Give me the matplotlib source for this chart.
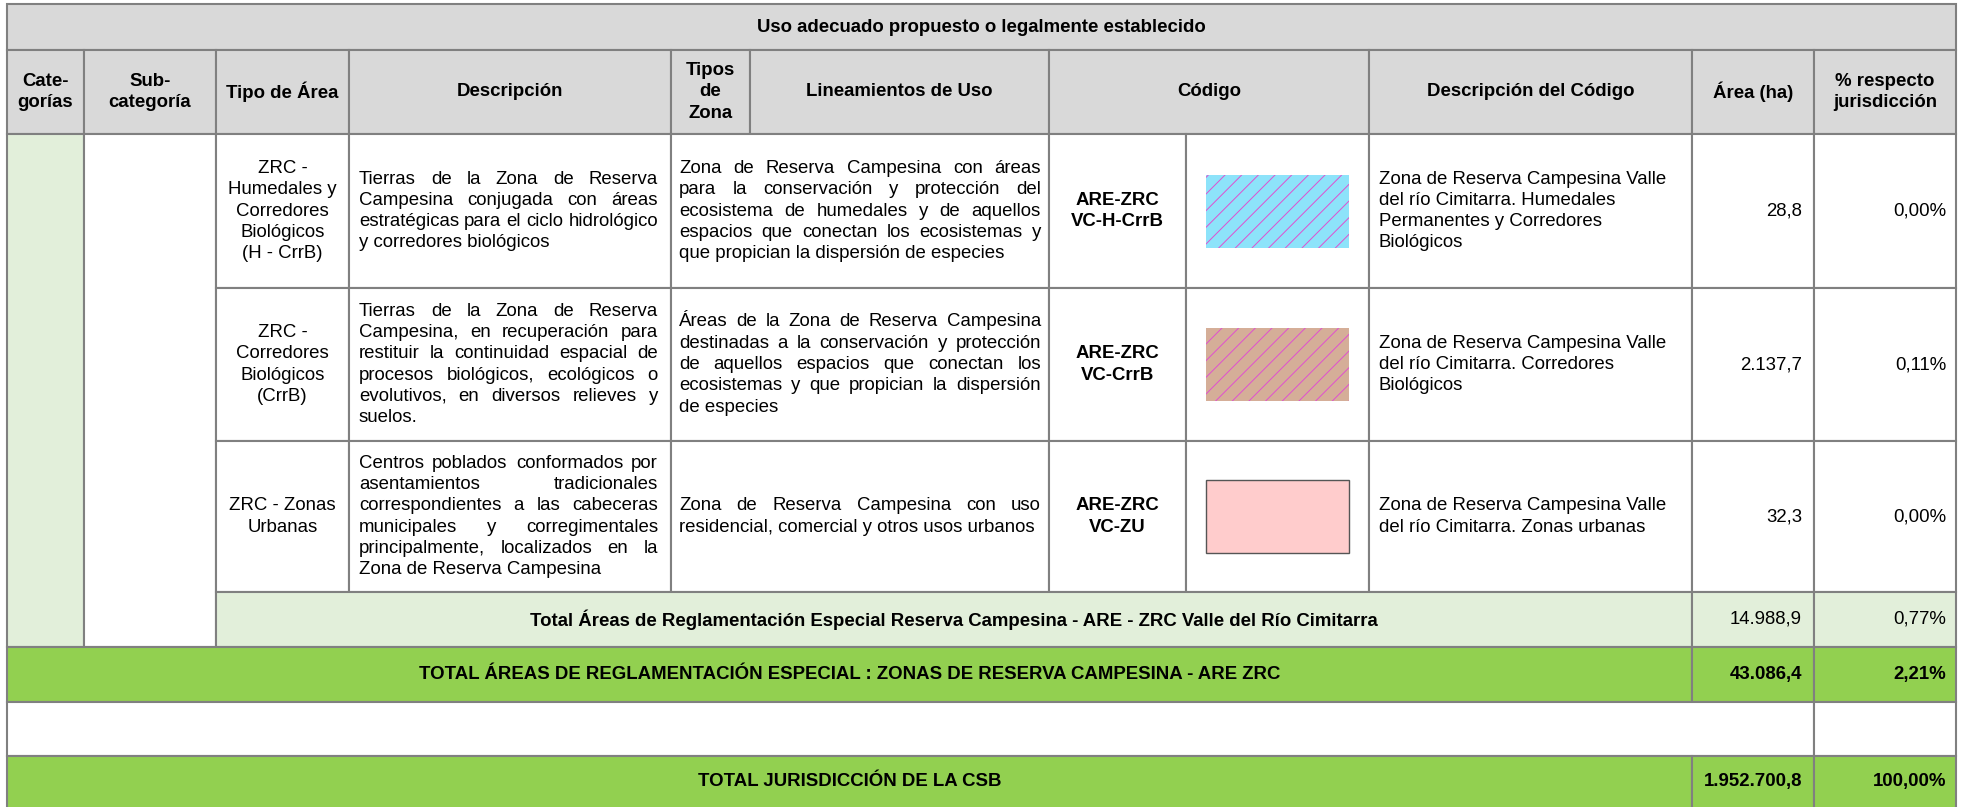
import matplotlib.pyplot as plt
from matplotlib.patches import Rectangle

plt.rcParams['font.family'] = ['Liberation Sans', 'DejaVu Sans']
plt.rcParams['hatch.linewidth'] = 0.7

# ---- datos de la tabla ----
titulo = 'Uso adecuado propuesto o legalmente establecido'
encabezados = [['Cate-', 'gorías'], ['Sub-', 'categoría'], ['Tipo de Área'], ['Descripción'],
               ['Tipos', 'de', 'Zona'], ['Lineamientos de Uso'], ['Código'],
               ['Descripción del Código'], ['Área (ha)'], ['% respecto', 'jurisdicción']]

tipos_area = [['ZRC -', 'Humedales y', 'Corredores', 'Biológicos', '(H - CrrB)'],
              ['ZRC -', 'Corredores', 'Biológicos', '(CrrB)'],
              ['ZRC - Zonas', 'Urbanas']]

descripciones = [
    ['Tierras de la Zona de Reserva', 'Campesina conjugada con áreas',
     'estratégicas para el ciclo hidrológico', 'y corredores biológicos'],
    ['Tierras de la Zona de Reserva', 'Campesina, en recuperación para',
     'restituir la continuidad espacial de', 'procesos biológicos, ecológicos o',
     'evolutivos, en diversos relieves y', 'suelos.'],
    ['Centros poblados conformados por', 'asentamientos tradicionales',
     'correspondientes a las cabeceras', 'municipales y corregimentales',
     'principalmente, localizados en la', 'Zona de Reserva Campesina'],
]

lineamientos = [
    ['Zona de Reserva Campesina con áreas', 'para la conservación y protección del',
     'ecosistema de humedales y de aquellos', 'espacios que conectan los ecosistemas y',
     'que propician la dispersión de especies'],
    ['Áreas de la Zona de Reserva Campesina', 'destinadas a la conservación y protección',
     'de aquellos espacios que conectan los', 'ecosistemas y que propician la dispersión',
     'de especies'],
    ['Zona de Reserva Campesina con uso', 'residencial, comercial y otros usos urbanos'],
]

codigos = [['ARE-ZRC', 'VC-H-CrrB'], ['ARE-ZRC', 'VC-CrrB'], ['ARE-ZRC', 'VC-ZU']]

desc_codigos = [
    ['Zona de Reserva Campesina Valle', 'del río Cimitarra. Humedales',
     'Permanentes y Corredores', 'Biológicos'],
    ['Zona de Reserva Campesina Valle', 'del río Cimitarra. Corredores', 'Biológicos'],
    ['Zona de Reserva Campesina Valle', 'del río Cimitarra. Zonas urbanas'],
]

areas = ['28,8', '2.137,7', '32,3']
porcentajes = ['0,00%', '0,11%', '0,00%']
colores_codigo = ['#8DE3FA', '#D5AE98', '#FFCCCC']
tramas = ['//', '//', None]

subtotal_txt = 'Total Áreas de Reglamentación Especial Reserva Campesina - ARE - ZRC Valle del Río Cimitarra'
subtotal_area, subtotal_pct = '14.988,9', '0,77%'
total_txt = 'TOTAL ÁREAS DE REGLAMENTACIÓN ESPECIAL : ZONAS DE RESERVA CAMPESINA - ARE ZRC'
total_area, total_pct = '43.086,4', '2,21%'
juris_txt = 'TOTAL JURISDICCIÓN DE LA CSB'
juris_area, juris_pct = '1.952.700,8', '100,00%'

# ---- geometría (pixeles) ----
W, H = 1962, 807
xs = [7, 84, 216, 349, 671, 750, 1049, 1186, 1369, 1692, 1814, 1956]
ys = [4, 50, 134, 288, 441, 592, 647, 702, 756, 812]

gris = '#D9D9D9'
verde_claro = '#E2EFDA'
verde = '#92D050'
borde = '#808080'
fs = 13.4
lh = 21.3

fig = plt.figure(figsize=(W / 100, H / 100), dpi=100)
ax = fig.add_axes([0, 0, 1, 1])
ax.set_xlim(0, W)
ax.set_ylim(H, 0)
ax.axis('off')
renderer = fig.canvas.get_renderer()


def celda(x0, x1, y0, y1, color='white'):
    ax.add_patch(Rectangle((x0, y0), x1 - x0, y1 - y0, facecolor=color,
                           edgecolor=borde, lw=1.5, zorder=1))


def lineas(lines, x, yc, ha='center', bold=False):
    y = yc - (len(lines) - 1) * lh / 2
    for ln in lines:
        ax.text(x, y, ln, ha=ha, va='center', fontsize=fs,
                fontweight='bold' if bold else 'normal', zorder=3)
        y += lh


def justificado(lines, x0, x1, yc):
    y = yc - (len(lines) - 1) * lh / 2
    for i, ln in enumerate(lines):
        words = ln.split()
        if i == len(lines) - 1 or len(words) == 1:
            ax.text(x0, y, ln, ha='left', va='center', fontsize=fs, zorder=3)
        else:
            ts = [ax.text(0, y, w, ha='left', va='center', fontsize=fs, zorder=3) for w in words]
            ws = [t.get_window_extent(renderer).width for t in ts]
            gap = (x1 - x0 - sum(ws)) / (len(words) - 1)
            x = x0
            for t, w in zip(ts, ws):
                t.set_x(x)
                x += w + gap
        y += lh


# título
celda(xs[0], xs[-1], ys[0], ys[1], gris)
ax.text((xs[0] + xs[-1]) / 2, (ys[0] + ys[1]) / 2, titulo, ha='center', va='center',
        fontsize=fs, fontweight='bold', zorder=3)

# encabezados
hx = [xs[0], xs[1], xs[2], xs[3], xs[4], xs[5], xs[6], xs[8], xs[9], xs[10], xs[11]]
for i, enc in enumerate(encabezados):
    celda(hx[i], hx[i + 1], ys[1], ys[2], gris)
    lineas(enc, (hx[i] + hx[i + 1]) / 2, (ys[1] + ys[2]) / 2, bold=True)

# columnas combinadas
celda(xs[0], xs[1], ys[2], ys[6], verde_claro)
celda(xs[1], xs[2], ys[2], ys[6], 'white')

# filas del cuerpo
for r in range(3):
    y0, y1 = ys[2 + r], ys[3 + r]
    yc = (y0 + y1) / 2
    for a, b in [(2, 3), (3, 4), (4, 6), (6, 7), (7, 8), (8, 9), (9, 10), (10, 11)]:
        celda(xs[a], xs[b], y0, y1)
    lineas(tipos_area[r], (xs[2] + xs[3]) / 2, yc)
    justificado(descripciones[r], xs[3] + 10, xs[4] - 13, yc)
    justificado(lineamientos[r], xs[4] + 8, xs[6] - 8, yc)
    lineas(codigos[r], (xs[6] + xs[7]) / 2, yc, bold=True)
    sw, sh = 143, 73
    sx = (xs[7] + xs[8]) / 2 - sw / 2
    if tramas[r]:
        ax.add_patch(Rectangle((sx, yc - sh / 2), sw, sh, facecolor=colores_codigo[r],
                               edgecolor='#E04FD0', lw=0, hatch=tramas[r], zorder=2))
    else:
        ax.add_patch(Rectangle((sx, yc - sh / 2), sw, sh, facecolor=colores_codigo[r],
                               edgecolor='#555555', lw=1.0, zorder=2))
    lineas(desc_codigos[r], xs[8] + 10, yc, ha='left')
    lineas([areas[r]], xs[10] - 12, yc, ha='right')
    lineas([porcentajes[r]], xs[11] - 10, yc, ha='right')

# subtotal
yc = (ys[5] + ys[6]) / 2
celda(xs[2], xs[9], ys[5], ys[6], verde_claro)
celda(xs[9], xs[10], ys[5], ys[6], verde_claro)
celda(xs[10], xs[11], ys[5], ys[6], verde_claro)
lineas([subtotal_txt], (xs[2] + xs[9]) / 2, yc, bold=True)
lineas([subtotal_area], xs[10] - 12, yc, ha='right')
lineas([subtotal_pct], xs[11] - 10, yc, ha='right')

# total ARE ZRC
yc = (ys[6] + ys[7]) / 2
celda(xs[0], xs[9], ys[6], ys[7], verde)
celda(xs[9], xs[10], ys[6], ys[7], verde)
celda(xs[10], xs[11], ys[6], ys[7], verde)
lineas([total_txt], (xs[0] + xs[9]) / 2, yc, bold=True)
lineas([total_area], xs[10] - 12, yc, ha='right', bold=True)
lineas([total_pct], xs[11] - 10, yc, ha='right', bold=True)

# fila vacía
celda(xs[0], xs[10], ys[7], ys[8], 'white')
celda(xs[10], xs[11], ys[7], ys[8], 'white')

# total jurisdicción
yc = (ys[8] + 807) / 2
celda(xs[0], xs[9], ys[8], ys[9], verde)
celda(xs[9], xs[10], ys[8], ys[9], verde)
celda(xs[10], xs[11], ys[8], ys[9], verde)
lineas([juris_txt], (xs[0] + xs[9]) / 2, yc, bold=True)
lineas([juris_area], xs[10] - 12, yc, ha='right', bold=True)
lineas([juris_pct], xs[11] - 10, yc, ha='right', bold=True)

fig.savefig('out.png', dpi=100, facecolor='white')
